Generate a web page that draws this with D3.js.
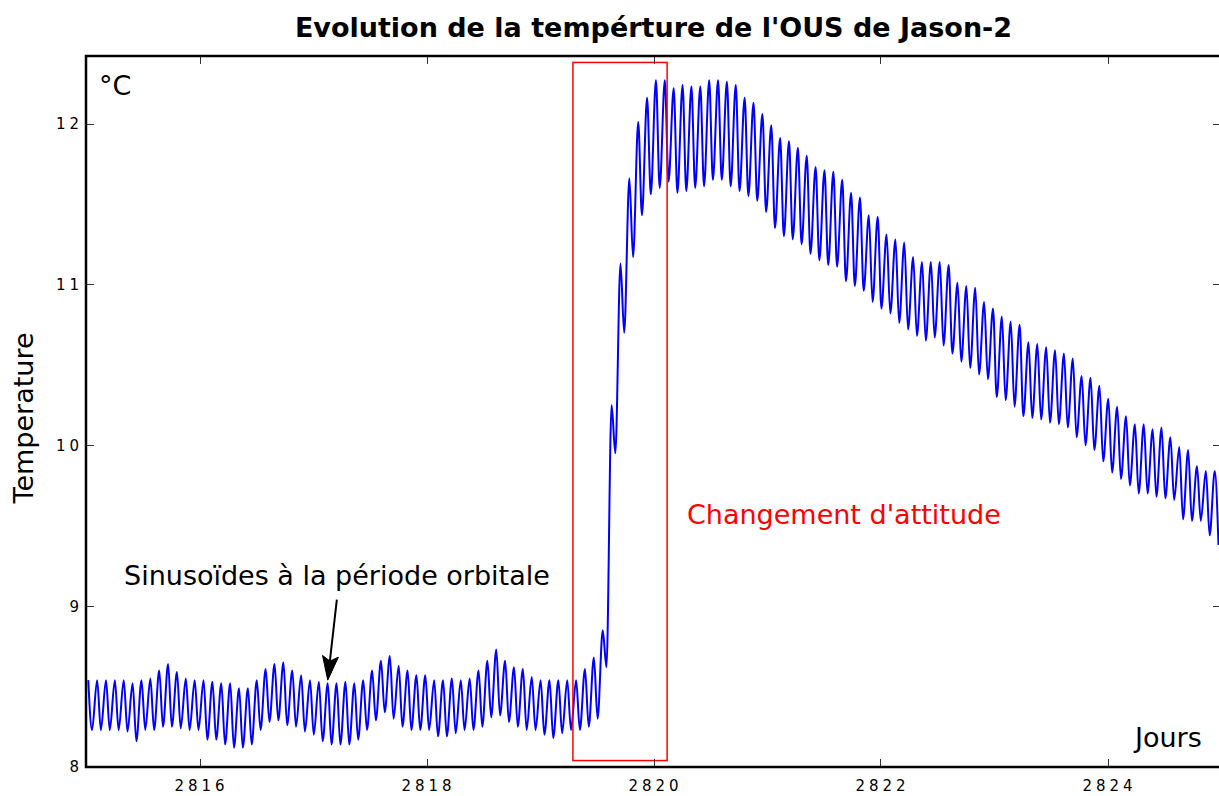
<!DOCTYPE html>
<html>
<head>
<meta charset="utf-8">
<script src="https://cdn.jsdelivr.net/npm/d3@7"></script>
<style>
  html, body { margin: 0; padding: 0; background: #fff; }
  svg { display: block; font-family: "DejaVu Sans", sans-serif; }
</style>
</head>
<body>
<svg id="chart" width="1219" height="796"></svg>
<script>
// OUS temperature telemetry, one maximum and one minimum per orbit
const orbitStart = 2815.02;      // day of the first orbital maximum
const orbitPeriod = 0.07815;     // orbital period, days
const troughLag = 0.42;          // minimum position within the orbit

const peakTemps = [
  8.54, 8.54, 8.54, 8.54, 8.54, 8.52, 8.54, 8.55, 8.60, 8.64,
  8.59, 8.55, 8.54, 8.54, 8.53, 8.52, 8.52, 8.49, 8.49, 8.54,
  8.61, 8.64, 8.65, 8.60, 8.57, 8.54, 8.53, 8.52, 8.52, 8.53,
  8.52, 8.54, 8.60, 8.66, 8.69, 8.63, 8.60, 8.57, 8.57, 8.54,
  8.54, 8.55, 8.54, 8.55, 8.60, 8.66, 8.73, 8.66, 8.62, 8.61,
  8.56, 8.54, 8.54, 8.54, 8.54, 8.54, 8.61, 8.68, 8.85, 10.25,
  11.13, 11.66, 12.01, 12.16, 12.27, 12.27, 12.22, 12.24, 12.23, 12.23,
  12.27, 12.27, 12.26, 12.24, 12.16, 12.13, 12.06, 11.99, 11.91, 11.89,
  11.85, 11.80, 11.73, 11.71, 11.70, 11.65, 11.57, 11.54, 11.43, 11.42,
  11.31, 11.28, 11.26, 11.17, 11.14, 11.14, 11.14, 11.12, 11.01, 10.99,
  10.98, 10.89, 10.85, 10.80, 10.77, 10.75, 10.64, 10.63, 10.61, 10.59,
  10.57, 10.54, 10.43, 10.42, 10.37, 10.29, 10.24, 10.18, 10.13, 10.13,
  10.10, 10.11, 10.05, 9.99, 9.97, 9.87, 9.84, 9.84
];

const troughTemps = [
  8.23, 8.23, 8.23, 8.23, 8.22, 8.16, 8.23, 8.23, 8.25, 8.25,
  8.24, 8.23, 8.23, 8.17, 8.17, 8.14, 8.12, 8.12, 8.14, 8.23,
  8.28, 8.29, 8.26, 8.25, 8.22, 8.20, 8.16, 8.14, 8.14, 8.14,
  8.17, 8.23, 8.29, 8.34, 8.30, 8.25, 8.23, 8.23, 8.23, 8.19,
  8.19, 8.21, 8.23, 8.23, 8.25, 8.31, 8.32, 8.28, 8.25, 8.23,
  8.23, 8.20, 8.18, 8.21, 8.23, 8.23, 8.25, 8.30, 8.62, 9.95,
  10.70, 11.17, 11.43, 11.56, 11.60, 11.64, 11.57, 11.58, 11.60, 11.61,
  11.65, 11.65, 11.61, 11.58, 11.55, 11.52, 11.45, 11.35, 11.30, 11.28,
  11.25, 11.19, 11.15, 11.12, 11.11, 11.02, 10.99, 10.96, 10.89, 10.85,
  10.82, 10.76, 10.72, 10.68, 10.65, 10.67, 10.62, 10.57, 10.52, 10.48,
  10.44, 10.41, 10.30, 10.28, 10.24, 10.18, 10.17, 10.16, 10.14, 10.13,
  10.11, 10.05, 10.00, 9.97, 9.90, 9.83, 9.79, 9.75, 9.70, 9.70,
  9.68, 9.67, 9.66, 9.54, 9.53, 9.53, 9.44, 9.38
];

const xDomain = [2815, 2825];
const yDomain = [8, 12.42];
const xTicks = [2816, 2818, 2820, 2822, 2824];
const yTicks = [8, 9, 10, 11, 12];

// attitude-change window [t0, t1, Tmin, Tmax]
const attitudeBox = [2819.29, 2820.12, 8.04, 12.38];
// orbital-sine annotation: text anchor, arrow tail, arrow tip
const sineLabelAt = [2815.335, 9.13];
const arrowTail = [2817.21, 9.04];
const arrowTip = [2817.13, 8.54];
const attitudeLabelAt = [2820.295, 9.51];

const svg = d3.select("#chart");
const margin = { left: 86, top: 56, right: -2, bottom: 29 };
const W = 1219, H = 796;
const x = d3.scaleLinear().domain(xDomain).range([margin.left, W - margin.right]);
const y = d3.scaleLinear().domain(yDomain).range([H - margin.bottom, margin.top]);

// one point per orbital max and min
const series = [];
peakTemps.forEach((v, i) => {
  const t = orbitStart + i * orbitPeriod;
  series.push([t, v]);
  series.push([t + troughLag * orbitPeriod, troughTemps[i]]);
});

svg.append("defs").append("clipPath").attr("id", "plotClip")
  .append("rect")
  .attr("x", x.range()[0]).attr("y", y.range()[1])
  .attr("width", x.range()[1] - x.range()[0])
  .attr("height", y.range()[0] - y.range()[1]);

const line = d3.line()
  .x(d => x(d[0]))
  .y(d => y(d[1]))
  .curve(d3.curveMonotoneX);

svg.append("path")
  .datum(series)
  .attr("clip-path", "url(#plotClip)")
  .attr("fill", "none")
  .attr("stroke", "#0000ff")
  .attr("stroke-width", 2)
  .attr("stroke-linejoin", "round")
  .attr("d", line);

// attitude-change rectangle
svg.append("rect")
  .attr("x", x(attitudeBox[0]))
  .attr("y", y(attitudeBox[3]))
  .attr("width", x(attitudeBox[1]) - x(attitudeBox[0]))
  .attr("height", y(attitudeBox[2]) - y(attitudeBox[3]))
  .attr("fill", "none")
  .attr("stroke", "#ff0000")
  .attr("stroke-width", 1.5);

// ticks (inside, on all four sides)
const tickLen = 8;
const tickG = svg.append("g").attr("stroke", "#333").attr("stroke-width", 1);
xTicks.forEach(t => {
  const px = Math.round(x(t)) + 0.5;
  tickG.append("line").attr("x1", px).attr("x2", px)
    .attr("y1", y.range()[0]).attr("y2", y.range()[0] - tickLen);
  tickG.append("line").attr("x1", px).attr("x2", px)
    .attr("y1", y.range()[1]).attr("y2", y.range()[1] + tickLen);
});
yTicks.forEach(t => {
  const py = Math.round(y(t)) + 0.5;
  tickG.append("line").attr("y1", py).attr("y2", py)
    .attr("x1", x.range()[0]).attr("x2", x.range()[0] + tickLen);
  tickG.append("line").attr("y1", py).attr("y2", py)
    .attr("x1", x.range()[1]).attr("x2", x.range()[1] - tickLen);
});

// tick labels
const tickFont = 15, tickSpacing = 4;
svg.append("g").selectAll("text").data(xTicks).join("text")
  .attr("x", d => x(d) + tickSpacing / 2)
  .attr("y", 791)
  .attr("text-anchor", "middle")
  .attr("font-size", tickFont)
  .attr("letter-spacing", tickSpacing)
  .attr("fill", "#000")
  .text(d => d);

svg.append("g").selectAll("text").data(yTicks).join("text")
  .attr("x", x.range()[0] - 7 + tickSpacing)
  .attr("y", d => y(d))
  .attr("dy", "0.36em")
  .attr("text-anchor", "end")
  .attr("font-size", tickFont)
  .attr("letter-spacing", tickSpacing)
  .attr("fill", "#000")
  .text(d => d);

// frame
svg.append("rect")
  .attr("x", x.range()[0]).attr("y", y.range()[1])
  .attr("width", x.range()[1] - x.range()[0])
  .attr("height", y.range()[0] - y.range()[1])
  .attr("fill", "none")
  .attr("stroke", "#000")
  .attr("stroke-width", 2.5);

// title and axis labels
svg.append("text")
  .attr("x", (x.range()[0] + x.range()[1]) / 2)
  .attr("y", 37)
  .attr("text-anchor", "middle")
  .attr("font-size", 27)
  .attr("font-weight", "bold")
  .text("Evolution de la tempérture de l'OUS de Jason-2");

svg.append("text")
  .attr("transform", "translate(33,418) rotate(-90)")
  .attr("text-anchor", "middle")
  .attr("font-size", 27)
  .text("Temperature");

svg.append("text")
  .attr("x", x.range()[0] + 13)
  .attr("y", y.range()[1] + 39)
  .attr("font-size", 27)
  .text("°C");

svg.append("text")
  .attr("x", 1135)
  .attr("y", y.range()[0] - 20)
  .attr("font-size", 27)
  .text("Jours");

// annotations
svg.append("text")
  .attr("x", x(sineLabelAt[0]))
  .attr("y", y(sineLabelAt[1]))
  .attr("font-size", 27)
  .text("Sinusoïdes à la période orbitale");

const ax0 = x(arrowTail[0]), ay0 = y(arrowTail[1]);
const ax1 = x(arrowTip[0]), ay1 = y(arrowTip[1]);
const ang = Math.atan2(ay1 - ay0, ax1 - ax0);
const headLen = 24, headHalf = 8;
const bx = ax1 - headLen * Math.cos(ang), by = ay1 - headLen * Math.sin(ang);
svg.append("line")
  .attr("x1", ax0).attr("y1", ay0)
  .attr("x2", bx + 8 * Math.cos(ang)).attr("y2", by + 8 * Math.sin(ang))
  .attr("stroke", "#000").attr("stroke-width", 2);
svg.append("path")
  .attr("d", d3.line()([
    [ax1, ay1],
    [bx + headHalf * Math.sin(ang), by - headHalf * Math.cos(ang)],
    [bx + 0.2 * headLen * Math.cos(ang), by + 0.2 * headLen * Math.sin(ang)],
    [bx - headHalf * Math.sin(ang), by + headHalf * Math.cos(ang)]
  ]) + "Z")
  .attr("fill", "#000")
  .attr("stroke", "#000")
  .attr("stroke-width", 1);

svg.append("text")
  .attr("x", x(attitudeLabelAt[0]))
  .attr("y", y(attitudeLabelAt[1]))
  .attr("font-size", 27)
  .attr("fill", "#ff0000")
  .text("Changement d'attitude");
</script>
</body>
</html>
